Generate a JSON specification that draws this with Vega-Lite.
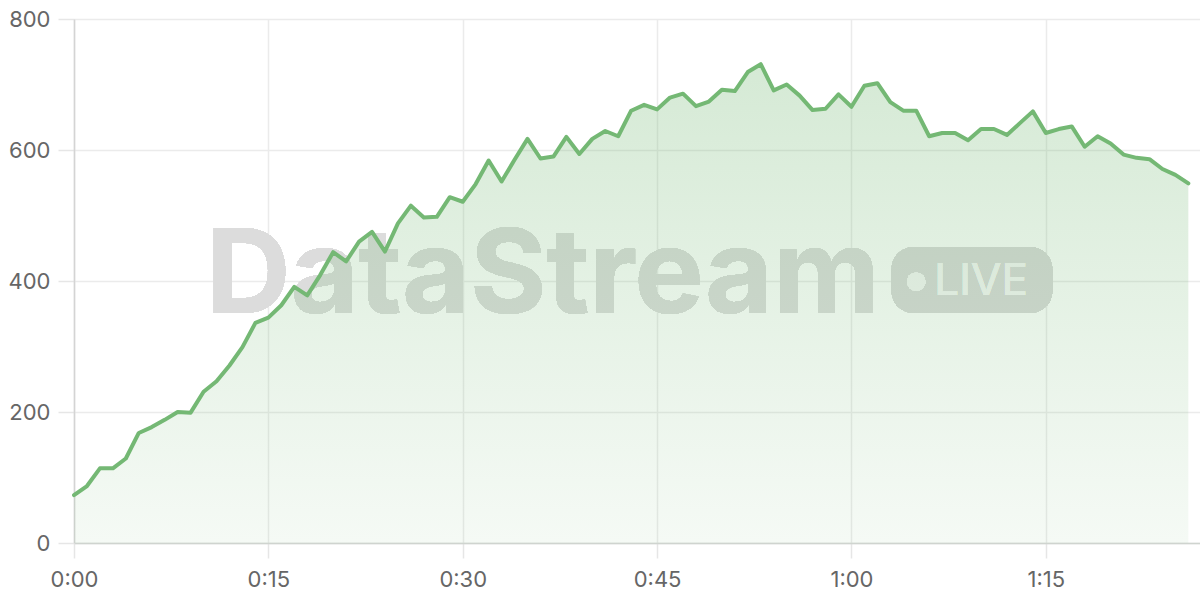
{
  "$schema": "https://vega.github.io/schema/vega-lite/v6.json",
  "width": 1126,
  "height": 524,
  "autosize": {"type": "none"},
  "padding": {"left": 74, "top": 19, "right": 0, "bottom": 57},
  "background": "#ffffff",
  "config": {
    "view": {"stroke": null},
    "font": "Inter",
    "axis": {
      "labelFont": "Inter",
      "labelFontSize": 22,
      "labelColor": "#666666",
      "gridColor": "#ebebeb",
      "gridWidth": 1.5,
      "tickColor": "#e6e6e6",
      "tickWidth": 1.5,
      "tickSize": 15,
      "domainColor": "#d4d4d4",
      "domainWidth": 1.5,
      "title": null
    }
  },
  "data": {
    "values": [
      {"t": 0, "v": 73}, {"t": 1, "v": 87}, {"t": 2, "v": 114}, {"t": 3, "v": 114}, {"t": 4, "v": 129},
      {"t": 5, "v": 168}, {"t": 6, "v": 177}, {"t": 7, "v": 188}, {"t": 8, "v": 200}, {"t": 9, "v": 199},
      {"t": 10, "v": 231}, {"t": 11, "v": 247}, {"t": 12, "v": 271}, {"t": 13, "v": 299}, {"t": 14, "v": 336},
      {"t": 15, "v": 344}, {"t": 16, "v": 363}, {"t": 17, "v": 391}, {"t": 18, "v": 378}, {"t": 19, "v": 409},
      {"t": 20, "v": 444}, {"t": 21, "v": 430}, {"t": 22, "v": 460}, {"t": 23, "v": 475}, {"t": 24, "v": 445},
      {"t": 25, "v": 488}, {"t": 26, "v": 515}, {"t": 27, "v": 497}, {"t": 28, "v": 498}, {"t": 29, "v": 528},
      {"t": 30, "v": 521}, {"t": 31, "v": 548}, {"t": 32, "v": 584}, {"t": 33, "v": 552}, {"t": 34, "v": 585},
      {"t": 35, "v": 617}, {"t": 36, "v": 587}, {"t": 37, "v": 590}, {"t": 38, "v": 620}, {"t": 39, "v": 594},
      {"t": 40, "v": 617}, {"t": 41, "v": 629}, {"t": 42, "v": 621}, {"t": 43, "v": 660}, {"t": 44, "v": 669},
      {"t": 45, "v": 662}, {"t": 46, "v": 680}, {"t": 47, "v": 686}, {"t": 48, "v": 667}, {"t": 49, "v": 674},
      {"t": 50, "v": 692}, {"t": 51, "v": 690}, {"t": 52, "v": 719}, {"t": 53, "v": 731}, {"t": 54, "v": 691},
      {"t": 55, "v": 700}, {"t": 56, "v": 683}, {"t": 57, "v": 661}, {"t": 58, "v": 663}, {"t": 59, "v": 685},
      {"t": 60, "v": 666}, {"t": 61, "v": 698}, {"t": 62, "v": 702}, {"t": 63, "v": 673}, {"t": 64, "v": 660},
      {"t": 65, "v": 660}, {"t": 66, "v": 621}, {"t": 67, "v": 626}, {"t": 68, "v": 626}, {"t": 69, "v": 615},
      {"t": 70, "v": 632}, {"t": 71, "v": 632}, {"t": 72, "v": 623}, {"t": 73, "v": 641}, {"t": 74, "v": 659},
      {"t": 75, "v": 626}, {"t": 76, "v": 632}, {"t": 77, "v": 636}, {"t": 78, "v": 605}, {"t": 79, "v": 621},
      {"t": 80, "v": 610}, {"t": 81, "v": 593}, {"t": 82, "v": 588}, {"t": 83, "v": 586}, {"t": 84, "v": 571},
      {"t": 85, "v": 562}, {"t": 86, "v": 549}
    ]
  },
  "encoding": {
    "x": {
      "field": "t",
      "type": "quantitative",
      "scale": {"domain": [0, 86.9], "nice": false, "zero": false},
      "axis": {
        "values": [0, 15, 30, 45, 60, 75],
        "labelExpr": "floor(datum.value / 60) + ':' + (datum.value % 60 < 10 ? '0' : '') + (datum.value % 60)",
        "labelPadding": 11,
        "domainColor": "#cfd4cf",
        "labelFlush": false
      }
    },
    "y": {
      "field": "v",
      "type": "quantitative",
      "scale": {"domain": [0, 800], "nice": false},
      "axis": {
        "values": [0, 200, 400, 600, 800],
        "tickSize": 16,
        "labelPadding": 8,
        "labelFlush": false
      }
    }
  },
  "layer": [
    {
      "mark": {
        "type": "text",
        "text": "DataStream",
        "font": "Inter",
        "fontWeight": "bold",
        "fontSize": 117,
        "align": "left",
        "baseline": "alphabetic",
        "color": "#dcdcdc"
      },
      "encoding": {
        "x": {"datum": 10.2, "type": "quantitative"},
        "y": {"datum": 351, "type": "quantitative"}
      }
    },
    {
      "mark": {
        "type": "rect",
        "cornerRadius": 22,
        "color": "#d9d9d9"
      },
      "encoding": {
        "x": {"datum": 63.1, "type": "quantitative"},
        "x2": {"datum": 75.5},
        "y": {"datum": 451.9, "type": "quantitative"},
        "y2": {"datum": 351.1}
      }
    },
    {
      "mark": {
        "type": "point",
        "shape": "circle",
        "filled": true,
        "size": 340,
        "strokeWidth": 0,
        "color": "#f6f6f6",
        "opacity": 1
      },
      "encoding": {
        "x": {"datum": 65.0, "type": "quantitative"},
        "y": {"datum": 399, "type": "quantitative"}
      }
    },
    {
      "mark": {
        "type": "text",
        "text": "LIVE",
        "font": "Inter",
        "fontWeight": "normal",
        "fontSize": 44,
        "align": "left",
        "baseline": "alphabetic",
        "color": "#f6f6f6"
      },
      "encoding": {
        "x": {"datum": 66.4, "type": "quantitative"},
        "y": {"datum": 378.6, "type": "quantitative"}
      }
    },
    {
      "mark": {
        "type": "area",
        "color": {
          "gradient": "linear",
          "x1": 0, "y1": 0, "x2": 0, "y2": 1,
          "stops": [
            {"offset": 0, "color": "rgba(116,184,116,0.30)"},
            {"offset": 1, "color": "rgba(116,184,116,0.07)"}
          ]
        }
      }
    },
    {
      "mark": {
        "type": "line",
        "color": "#74b874",
        "strokeWidth": 4,
        "strokeJoin": "round",
        "strokeCap": "round"
      }
    }
  ]
}
